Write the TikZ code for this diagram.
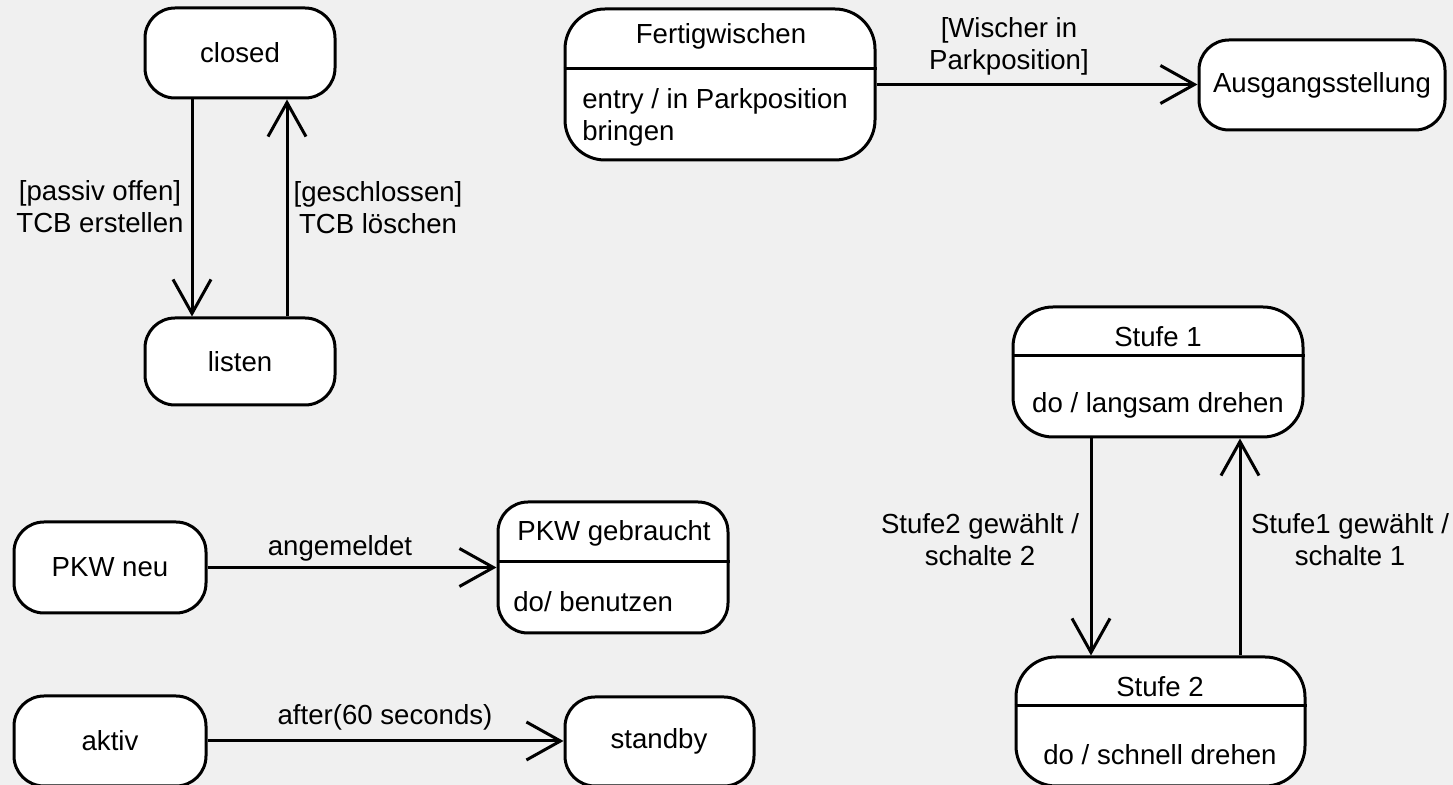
\documentclass[tikz,border=0pt]{standalone}
\usepackage{fontspec}
\setmainfont{Liberation Sans}
\usetikzlibrary{arrows.meta,calc}

\tikzset{
  lw/.style={line width=1.5pt},
  state/.style={lw, draw=black, fill=white, inner sep=0pt, rounded corners=15pt},
  bigstate/.style={state, rounded corners=20pt},
  txt/.style={inner sep=0pt, align=center},
  trans/.style={lw, -{Straight Barb[length=17pt,width=19pt]}},
  divider/.style={lw},
}

\begin{document}
\begin{tikzpicture}[x=0.5pt, y=-0.5pt,
    every node/.append style={font=\fontsize{13.8}{16}\selectfont}]
  % canvas
  \fill[fill={rgb,255:red,240;green,240;blue,240}] (0,0) rectangle (1453,785);
  \useasboundingbox (0,0) rectangle (1453,785);

  % --- closed / listen ---
  \node[state, minimum width=95pt, minimum height=45pt] (closed) at (240,53) {closed};
  \node[state, minimum width=95pt, minimum height=43.5pt] (listen) at (240,361.5) {listen};
  \draw[trans] ($(closed.south)+(-48,0)$) -- ($(listen.north)+(-48,0)$);
  \draw[trans] ($(listen.north)+(47,0)$) -- ($(closed.south)+(47,0)$);
  \node[txt] (lpassiv) at (100,207) {[passiv offen]\\TCB erstellen};
  \node[txt] (lgeschl) at (378,208) {[geschlossen]\\TCB l\"oschen};

  % --- Fertigwischen / Ausgangsstellung ---
  \node[bigstate, minimum width=155pt, minimum height=75.5pt] (fert) at (720,84.5) {};
  \draw[divider] ($(fert.north west)+(0,61)$) -- ($(fert.north east)+(0,61)$);
  \node[txt] (fertT) at (721,36) {Fertigwischen};
  \node[txt, align=left, anchor=west] (fertB) at (582,117) {entry / in Parkposition\\bringen};
  \node[state, minimum width=123pt, minimum height=45pt] (ausg) at (1322,85) {Ausgangsstellung};
  \draw[trans] (fert.east) -- (fert.east -| ausg.west);
  \node[txt] (lwischer) at (1009,46) {[Wischer in\\Parkposition]};

  % --- PKW neu / PKW gebraucht ---
  \node[state, minimum width=96pt, minimum height=45.5pt] (pkwneu) at (110,567.5) {PKW neu};
  \node[state, minimum width=115pt, minimum height=65.5pt] (pkwgeb) at (613,567.5) {};
  \draw[divider] ($(pkwgeb.north west)+(0,61)$) -- ($(pkwgeb.north east)+(0,61)$);
  \node[txt] (pkwgebT) at (614,533) {PKW gebraucht};
  \node[txt, anchor=west] (pkwgebB) at (513,602) {do/ benutzen};
  \draw[trans] (pkwneu.east) -- (pkwneu.east -| pkwgeb.west);
  \node[txt] (langem) at (340,548) {angemeldet};

  % --- aktiv / standby ---
  \node[state, minimum width=96pt, minimum height=45pt] (aktiv) at (110,741) {};
  \node[txt] (aktivT) at (110,741) {aktiv};
  \node[state, minimum width=94.5pt, minimum height=44.5pt] (standby) at (659.5,741.5) {};
  \node[txt] (standbyT) at (659,741) {standby};
  \draw[trans] (aktiv.east) -- (aktiv.east -| standby.west);
  \node[txt] (lafter) at (385,717) {after(60 seconds)};

  % --- Stufe 1 / Stufe 2 ---
  \node[bigstate, minimum width=145pt, minimum height=65pt] (st1) at (1158,372) {};
  \draw[divider] ($(st1.north west)+(0,50)$) -- ($(st1.north east)+(0,50)$);
  \node[txt] (st1T) at (1158,337) {Stufe 1};
  \node[txt] (st1B) at (1158,405) {do / langsam drehen};
  \node[bigstate, minimum width=144.5pt, minimum height=64.5pt] (st2) at (1160.5,721.5) {};
  \draw[divider] ($(st2.north west)+(0,50)$) -- ($(st2.north east)+(0,50)$);
  \node[txt] (st2T) at (1160,687) {Stufe 2};
  \node[txt] (st2B) at (1160,755) {do / schnell drehen};
  \draw[trans] ($(st1.south)+(-67,0)$) -- ($(st2.north)+(-69.5,0)$);
  \draw[trans] ($(st2.north)+(79.5,0)$) -- ($(st1.south)+(82,0)$);
  \node[txt] (lst2) at (980,540) {Stufe2 gewählt /\\schalte 2};
  \node[txt] (lst1) at (1350,540) {Stufe1 gewählt /\\schalte 1};
\end{tikzpicture}
\end{document}
